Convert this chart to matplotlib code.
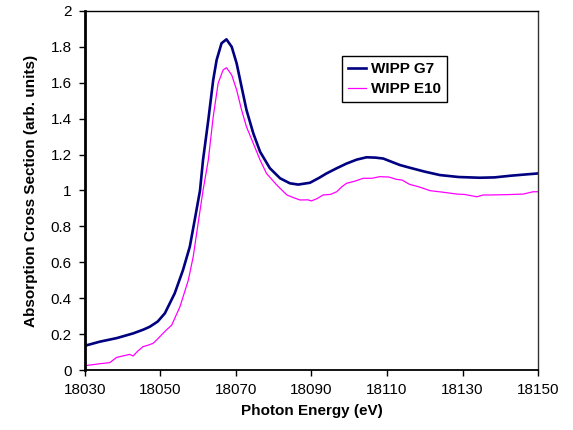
import numpy as np
import matplotlib
matplotlib.use("Agg")
import matplotlib.pyplot as plt
from matplotlib.ticker import FuncFormatter

plt.rcParams['font.family'] = ['Liberation Sans', 'DejaVu Sans']

# WIPP G7 (navy)
g7_e = [18030, 18034, 18038.5, 18042.8, 18045.5, 18047.2, 18049.3, 18051.2, 18053.8,
        18056, 18057.8, 18059.1, 18060.5, 18061.3, 18062.7, 18064, 18064.9, 18066.2,
        18067.5, 18068.9, 18070.2, 18071.5, 18072.8, 18074.6, 18076.4, 18079,
        18081.7, 18084.3, 18086.5, 18089.6, 18092, 18094, 18096.7, 18099.3,
        18102, 18104.6, 18107, 18109, 18111.2, 18113.4, 18116, 18120, 18124,
        18129, 18134.6, 18138.5, 18142.6, 18146.5, 18150]
g7_y = [0.135, 0.158, 0.178, 0.204, 0.225, 0.241, 0.27, 0.316, 0.427,
        0.557, 0.687, 0.836, 1.0, 1.17, 1.393, 1.616, 1.727, 1.82,
        1.842, 1.80, 1.708, 1.578, 1.449, 1.319, 1.216, 1.124,
        1.068, 1.04, 1.033, 1.043, 1.07, 1.095, 1.124, 1.15,
        1.172, 1.185, 1.183, 1.178, 1.16, 1.142, 1.127, 1.105, 1.086,
        1.075, 1.071, 1.073, 1.082, 1.089, 1.095]

# WIPP E10 (magenta)
e10_e = [18030, 18034, 18036.6, 18038.4, 18040, 18041.9, 18042.8, 18044, 18045.4,
         18047, 18048.1, 18049, 18050.7, 18051.6, 18053, 18055.2, 18057.4,
         18058.7, 18060, 18061.3, 18062.7, 18064, 18065.3, 18066.6, 18067.5,
         18068.9, 18070.2, 18071.5, 18072.8, 18074.6, 18076.4, 18078.1, 18080.8,
         18083.5, 18085.5, 18087, 18089, 18090, 18091.5, 18093.1, 18095, 18096.7,
         18098, 18099.3, 18101.5, 18103.7, 18106, 18108.1, 18110.5, 18112.5,
         18114, 18116, 18118.5, 18121.4, 18125, 18128.5, 18130.5, 18133.8,
         18135.5, 18137.3, 18142, 18146.1, 18148.7, 18150]
e10_y = [0.024, 0.035, 0.041, 0.07, 0.078, 0.087, 0.078, 0.105, 0.13,
         0.14, 0.149, 0.167, 0.204, 0.223, 0.25, 0.353, 0.50,
         0.631, 0.817, 1.0, 1.17, 1.411, 1.597, 1.671, 1.684,
         1.643, 1.56, 1.449, 1.355, 1.263, 1.17, 1.095, 1.031,
         0.975, 0.958, 0.947, 0.948, 0.942, 0.955, 0.975, 0.978, 0.993,
         1.02, 1.04, 1.052, 1.068, 1.068, 1.077, 1.075, 1.062,
         1.058, 1.034, 1.02, 0.999, 0.99, 0.98, 0.978, 0.965,
         0.975, 0.975, 0.977, 0.98, 0.993, 0.993]

fig = plt.figure(figsize=(5.73, 4.30), dpi=100)
ax = fig.add_axes([0.148, 0.1395, 0.791, 0.835])

ax.plot(g7_e, g7_y, color='#000080', lw=1.9, label='WIPP G7')
ax.plot(e10_e, e10_y, color='#ff00ff', lw=0.9, label='WIPP E10')

ax.set_xlim(18030, 18150)
ax.set_ylim(0, 2)
ax.set_xticks(np.arange(18030, 18151, 20))
ax.set_yticks(np.arange(0, 2.01, 0.2))
ax.yaxis.set_major_formatter(FuncFormatter(lambda v, _: f'{v:g}'))
ax.tick_params(direction='out', length=4.5, width=1, labelsize=11, colors='black', pad=5)

ax.spines['left'].set_linewidth(2)
ax.spines['bottom'].set_linewidth(1.3)
ax.spines['top'].set_linewidth(1)
ax.spines['right'].set_linewidth(1)
ax.spines['right'].set_color('#333333')

ax.set_xlabel('Photon Energy (eV)', fontsize=11, fontweight='bold', labelpad=5)
ax.set_ylabel('Absorption Cross Section (arb. units)', fontsize=11, fontweight='bold', labelpad=9)

leg = ax.legend(loc='upper left', bbox_to_anchor=(0.567, 0.875), fancybox=False,
                framealpha=1, edgecolor='black', prop={'weight': 'bold', 'size': 11},
                handlelength=1.2, borderpad=0.4, labelspacing=0.4, handletextpad=0.3,
                borderaxespad=0)
leg.get_frame().set_linewidth(1)

fig.savefig('out.png', dpi=100)
